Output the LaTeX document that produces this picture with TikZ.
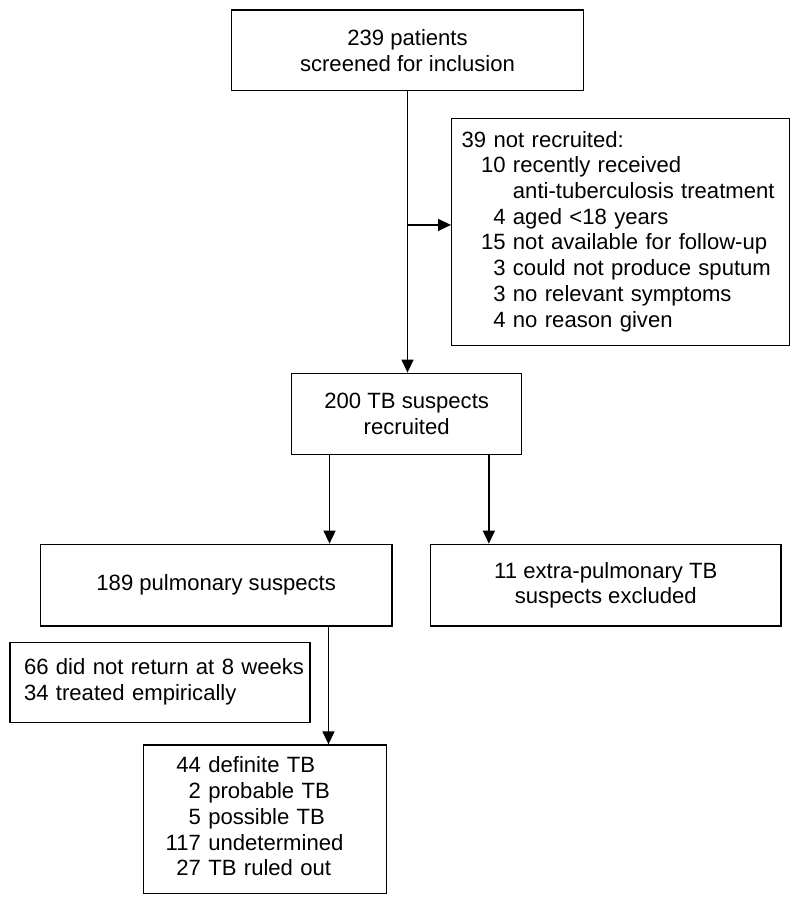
\documentclass[tikz,border=0pt]{standalone}
\usepackage{fontspec}
\setmainfont{Liberation Sans}
\usetikzlibrary{calc}
\usetikzlibrary{arrows.meta}
\tikzset{
  box/.style= {draw, line width=1.4pt, inner sep=0pt, align=center},
  lbox/.style= {draw, line width=1.4pt, inner ysep=0pt, align=left},
  arr/.style= {line width=1.4pt, -{Triangle[width=12pt,length=13pt]}},
}

\begin{document}
\begin{tikzpicture}[x=1pt, y=-1pt, every node/.style={font=\fontsize{22.1}{25.7}\selectfont}]
  \useasboundingbox (0,0) rectangle (800,904);
  \node [box, minimum width=351.6pt, minimum height=80.7pt] (screen) at (407.5,50.3) {239 patients\\screened for inclusion} ;
  \node [lbox, minimum width=337.6pt, minimum height=227.4pt, inner xsep=10pt, text width=317.6pt] (notrec) at (620.5,232) {\begin{tabular}{@{\hspace{19.3pt}}r@{\ }l@{}}
    \multicolumn{2}{@{}l@{}}{39 not recruited:}\\
    10 & recently received\\
       & anti-tuberculosis treatment\\
    4 & aged <18 years\\
    15 & not available for follow-up\\
    3 & could not produce sputum\\
    3 & no relevant symptoms\\
    4 & no reason given
  \end{tabular}} ;
  \node [box, minimum width=230pt, minimum height=81pt] (recruit) at (406.7,413.8) {200 TB suspects\\recruited} ;
  \node [box, minimum width=351.7pt, minimum height=81.7pt] (pulm) at (216.2,585.2) {189 pulmonary suspects} ;
  \node [box, minimum width=350.3pt, minimum height=81.7pt] (extra) at (605.8,585.2) {11 extra-pulmonary TB\\suspects excluded} ;
  \node [lbox, minimum width=300pt, minimum height=80pt, inner xsep=14pt, text width=272pt] (lost) at (160,682.7) {\begin{tabular}{@{}l@{}}
    66 did not return at 8 weeks\\
    34 treated empirically
  \end{tabular}} ;
  \node [lbox, minimum width=243.4pt, minimum height=148.3pt, inner xsep=22.4pt, text width=198.6pt] (result) at (265,819.2) {\begin{tabular}{@{}r@{\ }l@{}}
    44 & definite TB\\
    2 & probable TB\\
    5 & possible TB\\
    117 & undetermined\\
    27 & TB ruled out
  \end{tabular}} ;

  \coordinate (br) at ($(screen.south)!0.475!(screen.south |- recruit.north)$) ;
  \coordinate (rl) at ($(recruit.south west)!0.1665!(recruit.south east)$) ;
  \coordinate (rr) at ($(recruit.south west)!0.855!(recruit.south east)$) ;
  \coordinate (pb) at ($(pulm.south west)!0.818!(pulm.south east)$) ;
  \draw [arr] (screen.south) -- (screen.south |- recruit.north) ;
  \draw [arr] (br) -- (br -| notrec.west) ;
  \draw [arr] (rl) -- (rl |- pulm.north) ;
  \draw [arr] (rr) -- (rr |- extra.north) ;
  \draw [arr] (pb) -- (pb |- result.north) ;
\end{tikzpicture}
\end{document}
